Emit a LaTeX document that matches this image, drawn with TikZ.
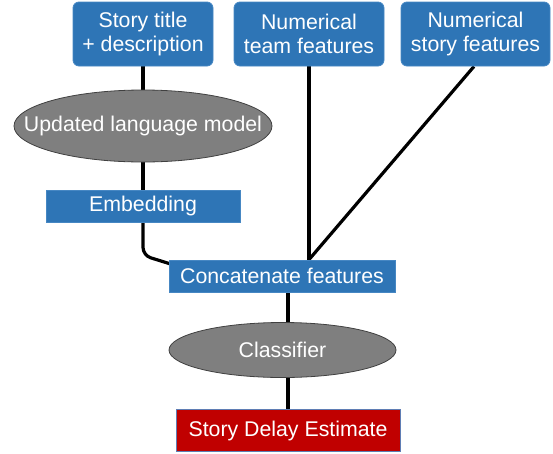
\documentclass[tikz,border=0pt]{standalone}
\usepackage{fontspec}
\setmainfont{Liberation Sans}
\usetikzlibrary{shapes.geometric}
\pgfdeclarelayer{background}
\pgfsetlayers{background,main}
\definecolor{obl}{RGB}{46,117,182}
\definecolor{oblb}{RGB}{70,135,195}
\definecolor{ogray}{RGB}{127,127,127}
\definecolor{ored}{RGB}{192,0,0}
\definecolor{oredb}{RGB}{95,125,180}
\begin{document}
\begin{tikzpicture}[x=1pt,y=-1pt,
  every node/.style={font=\fontsize{21.3}{24}\selectfont, text=white, inner sep=0pt, align=center},
  rbox/.style={draw=oblb, fill=obl, rounded corners=6pt, line width=0.8pt},
  sbox/.style={draw=oblb, fill=obl, line width=0.8pt},
  ell/.style={ellipse, draw=black!75, fill=ogray, line width=0.8pt, inner xsep=-80pt, inner ysep=-20pt},
  redbox/.style={draw=oredb, fill=ored, line width=0.8pt},
  conn/.style={line width=3.2pt, black, rounded corners=8pt}]
\useasboundingbox (0,0) rectangle (553,453);
\node[rbox, minimum width=140pt, minimum height=64pt] (title) at (143,34) {Story title\\+ description};
\node[rbox, minimum width=150pt, minimum height=64pt] (team) at (309,34) {Numerical\\team features};
\node[rbox, minimum width=149pt, minimum height=64pt] (story) at (475.5,34) {Numerical\\story features};
\node[ell, minimum width=258pt, minimum height=72pt] (lm) at (143,126) {Updated language model};
\node[sbox, minimum width=194pt, minimum height=32pt] (emb) at (143,206) {Embedding};
\node[sbox, minimum width=226pt, minimum height=32pt] (cat) at (282,276) {Concatenate features};
\node[ell, minimum width=227pt, minimum height=55pt] (cls) at (282.5,350) {Classifier};
\node[redbox, minimum width=224pt, minimum height=42pt] (out) at (288,430.5) {Story Delay Estimate};
\begin{pgfonlayer}{background}
\draw[conn] (title.south) -- (lm.north);
\draw[conn] (lm.south) -- (emb.north);
\draw[conn] (emb.south) -- ([yshift=-33pt]emb.south) -- ([xshift=4pt,yshift=-5pt]cat.north west);
\draw[conn] (team.south) -- (team.south |- cat.north);
\draw[conn] ([xshift=-1.5pt]story.south) -- (team.south |- cat.north);
\draw[conn] ([xshift=6pt]cat.south) -- (out.north);
\end{pgfonlayer}
\end{tikzpicture}
\end{document}
